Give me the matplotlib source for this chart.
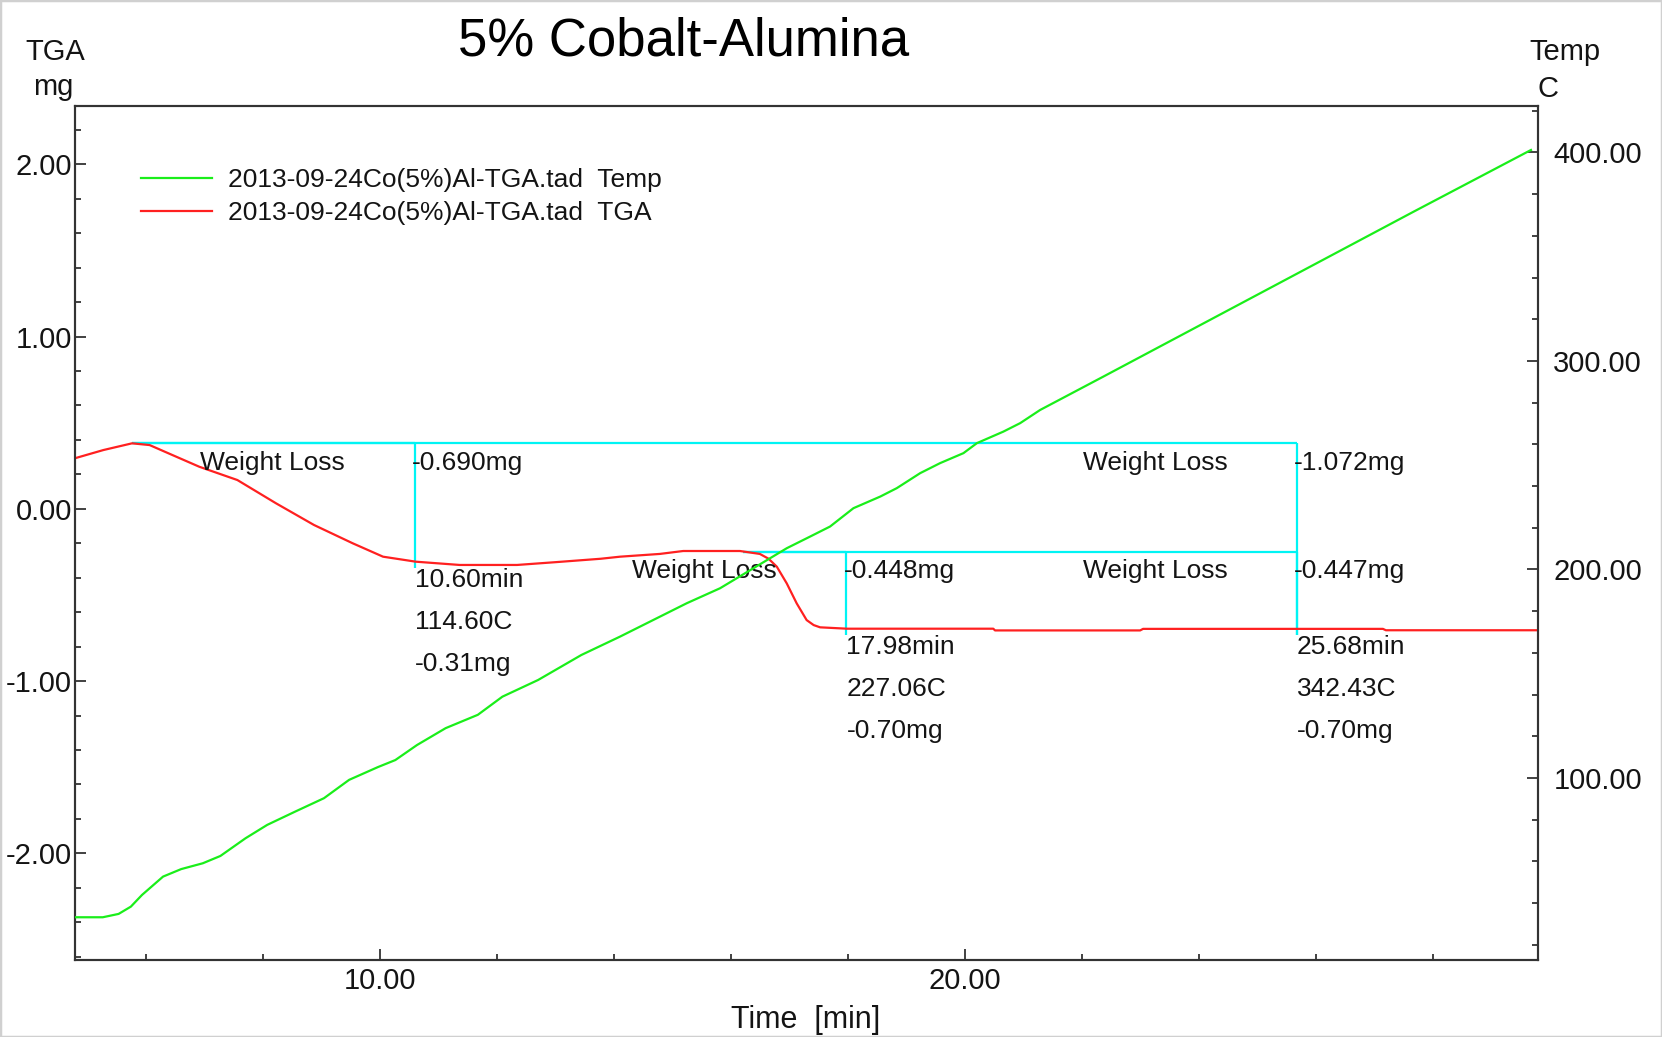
import matplotlib
matplotlib.use("Agg")
import matplotlib.pyplot as plt
from matplotlib.ticker import MultipleLocator, FormatStrFormatter
from matplotlib.patches import Rectangle

plt.rcParams['font.family'] = ['Liberation Sans', 'DejaVu Sans']

# ---------------- data ----------------
title = "5% Cobalt-Alumina"
legend_labels = ["2013-09-24Co(5%)Al-TGA.tad  Temp",
                 "2013-09-24Co(5%)Al-TGA.tad  TGA"]
x_label = "Time  [min]"
left_unit = ["TGA", "mg"]
right_unit = ["Temp", "C"]

# TGA curve (mg) vs time (min)
tga_time = [4.79, 5.28, 5.77, 6.07, 6.46, 6.92, 7.57, 8.23, 8.88, 9.54, 10.06,
            10.62, 11.37, 12.35, 13.00, 13.78, 14.11, 14.79, 15.19, 16.16, 16.50,
            16.65, 16.79, 16.96, 17.13, 17.30, 17.42, 17.53, 17.99, 20.49, 20.52,
            23.00, 23.05, 27.15, 27.20, 29.80]
tga_mass = [0.293, 0.341, 0.380, 0.370, 0.312, 0.244, 0.167, 0.032, -0.094, -0.200, -0.278,
            -0.307, -0.326, -0.326, -0.310, -0.290, -0.278, -0.262, -0.245, -0.245, -0.262,
            -0.290, -0.336, -0.433, -0.549, -0.646, -0.675, -0.688, -0.696, -0.696, -0.706,
            -0.706, -0.697, -0.697, -0.705, -0.705]

# Temperature curve (C) vs time (min)
temp_time = [4.78, 5.27, 5.54, 5.75, 5.94, 6.30, 6.61, 6.98, 7.28, 7.71, 8.08, 8.56,
             9.05, 9.48, 9.97, 10.27, 10.64, 11.13, 11.68, 12.10, 12.71, 13.45, 14.11,
             14.68, 15.25, 15.82, 16.39, 16.96, 17.36, 17.70, 18.10, 18.56, 18.84, 19.24,
             19.58, 19.98, 20.21, 20.66, 20.95, 21.29, 22.37, 24.14, 25.91, 27.68, 29.68]
temp_value = [33.2, 33.2, 34.8, 38.3, 43.9, 52.7, 56.3, 59.1, 62.6, 71.1, 77.5, 83.9,
              90.3, 99.1, 105.2, 108.6, 115.8, 123.9, 130.3, 139.0, 147.0, 159.0, 167.8,
              175.8, 183.8, 191.0, 200.6, 210.2, 215.8, 220.6, 229.4, 235.0, 239.0, 246.2,
              251.0, 255.8, 260.6, 266.1, 270.2, 276.5, 292.5, 318.9, 345.3, 371.7, 401.2]

# Weight-loss annotations
wl_start_time = [5.77, 16.21, 5.77, 16.21]
wl_start_mass = [0.380, -0.249, 0.380, -0.249]
wl_end_time = [10.60, 17.98, 25.68, 25.68]
wl_end_mass = [-0.31, -0.70, -0.70, -0.70]
wl_loss = [-0.690, -0.448, -1.072, -0.447]
wl_end_temp = [114.60, 227.06, 342.43, 342.43]
wl_details = [True, True, False, True]

# ---------------- figure ----------------
W, H = 1662, 1037
fig = plt.figure(figsize=(W / 100, H / 100), dpi=100)
fig.patch.set_facecolor('white')

ax = fig.add_axes([75 / W, 1 - 960 / H, (1538 - 75) / W, (960 - 106) / H])
ax2 = ax.twinx()

TXT = '#141414'
SPINE = '#333333'
GREEN = '#1aee1a'
RED = '#ff2020'
CYAN = '#00f4f4'

red_line, = ax.plot(tga_time, tga_mass, color=RED, lw=1.6, zorder=3)
green_line, = ax2.plot(temp_time, temp_value, color=GREEN, lw=1.6, zorder=3)

ax.set_xlim(4.795, 29.80)
ax.set_ylim(-2.619, 2.338)
ax2.set_ylim(12.7, 422.3)

# weight-loss boxes and labels
for st, sm, et, em, loss, tmp, det in zip(wl_start_time, wl_start_mass, wl_end_time,
                                          wl_end_mass, wl_loss, wl_end_temp, wl_details):
    ax.hlines(sm, st, et, color=CYAN, lw=1.6, zorder=2)
    ax.vlines(et, em - 0.035, sm, color=CYAN, lw=1.6, zorder=2)
    ax.annotate("Weight Loss", xy=(et, sm), xytext=(-50, -14), textcoords='offset points',
                ha='right', va='center', fontsize=19, color=TXT, zorder=5)
    ax.annotate(f"{loss:.3f}mg", xy=(et, sm), xytext=(-2, -14), textcoords='offset points',
                ha='left', va='center', fontsize=19, color=TXT, zorder=5)
    if det:
        for txt, dy in zip([f"{et:.2f}min", f"{tmp:.2f}C", f"{em:.2f}mg"],
                           [-13, -43, -73]):
            ax.annotate(txt, xy=(et, em), xytext=(0, dy), textcoords='offset points',
                        ha='left', va='center', fontsize=19, color=TXT, zorder=5)

# ticks
ax.xaxis.set_major_locator(MultipleLocator(10))
ax.xaxis.set_minor_locator(MultipleLocator(2))
ax.yaxis.set_major_locator(MultipleLocator(1))
ax.yaxis.set_minor_locator(MultipleLocator(0.2))
ax2.yaxis.set_major_locator(MultipleLocator(100))
ax2.yaxis.set_minor_locator(MultipleLocator(20))
for a in (ax.xaxis, ax.yaxis, ax2.yaxis):
    a.set_major_formatter(FormatStrFormatter('%.2f'))

ax.tick_params(axis='both', which='both', direction='in', colors=SPINE, labelcolor=TXT,
               labelsize=21, top=False, right=False)
ax.tick_params(which='major', length=8, width=1.3)
ax.tick_params(which='minor', length=4, width=1.3)
ax.tick_params(axis='x', pad=5)
ax.tick_params(axis='y', pad=2)
ax2.tick_params(axis='y', which='both', direction='in', colors=SPINE, labelcolor=TXT,
                labelsize=21, pad=11)
ax2.tick_params(which='major', length=8, width=1.3)
ax2.tick_params(which='minor', length=4, width=1.3)

for a in (ax, ax2):
    for s in a.spines.values():
        s.set_color(SPINE)
        s.set_linewidth(1.5)

# legend
ax2.legend([green_line, red_line], legend_labels, loc='upper left',
           bbox_to_anchor=(141 / W, 1 - 168 / H), bbox_transform=fig.transFigure,
           frameon=False, fontsize=19, handlelength=2.7, handletextpad=0.6,
           labelspacing=0.34, borderpad=0, borderaxespad=0, labelcolor=TXT)

# titles and unit labels
fig.text(684 / W, 1 - 55 / H, title, ha='center', va='baseline', fontsize=38, color='#000000')
fig.text(55 / W, 1 - 60 / H, left_unit[0], ha='center', va='baseline', fontsize=21, color=TXT)
fig.text(53 / W, 1 - 95 / H, left_unit[1], ha='center', va='baseline', fontsize=21, color=TXT)
fig.text(1565 / W, 1 - 60 / H, right_unit[0], ha='center', va='baseline', fontsize=21, color=TXT)
fig.text(1548 / W, 1 - 97 / H, right_unit[1], ha='center', va='baseline', fontsize=21, color=TXT)
fig.text(806 / W, 1 - 1028 / H, x_label, ha='center', va='baseline', fontsize=22, color=TXT)

# light outer frame
fig.patches.append(Rectangle((0, 0), 1, 1, transform=fig.transFigure, fill=False,
                             edgecolor='#d0d0d0', lw=2.5, zorder=0))

fig.savefig("out.png", dpi=100, facecolor='white')
